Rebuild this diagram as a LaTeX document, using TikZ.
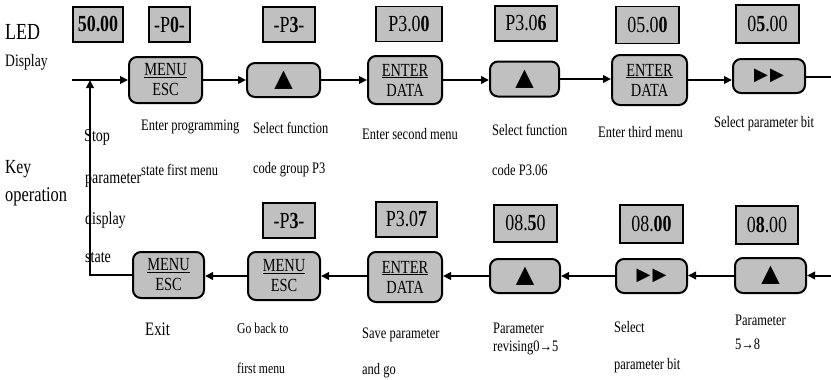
\documentclass[tikz,border=0pt]{standalone}
\usepackage{fontspec}
\setmainfont[FakeStretch=0.78]{Liberation Serif}
\newfontfamily\symfont{DejaVu Sans}
\usetikzlibrary{arrows.meta}
\definecolor{boxgray}{RGB}{192,192,192}
\tikzset{
  led/.style={draw, line width=1.6pt, fill=boxgray, inner sep=0pt, font=\fontsize{23}{23}\selectfont},
  keybox/.style={draw, line width=2pt, rounded corners=8pt, fill=boxgray, inner sep=0pt, align=center, font=\fontsize{18.5}{20}\selectfont},
  lbl/.style={anchor=west, inner sep=0pt, font=\fontsize{16}{16}\selectfont},
  side/.style={anchor=west, inner sep=0pt, font=\fontsize{18}{18}\selectfont},
  conn/.style={line width=2pt},
  arr/.style={line width=2pt, -{Triangle[length=8pt,width=7.5pt]}}
}
\newcommand{\keyup}{{\symfont\fontsize{24}{24}\selectfont ▲}}
\newcommand{\keyright}{{\symfont\fontsize{18}{18}\selectfont ▶\kern2pt▶}}
\begin{document}
\begin{tikzpicture}[x=1pt,y=-1pt]
\useasboundingbox (0,0) rectangle (831,380);
% left texts
\node[anchor=west, inner sep=0pt, font=\fontsize{23}{23}\selectfont] (tled) at (5,32) {LED};
\node[anchor=west, inner sep=0pt, font=\fontsize{17.5}{17.5}\selectfont] (tdisp) at (5,62) {Display};
\node[anchor=west, inner sep=0pt, font=\fontsize{20}{20}\selectfont] (tkey) at (5,169) {Key};
\node[anchor=west, inner sep=0pt, font=\fontsize{21}{21}\selectfont] (toper) at (5,197) {operation};
\node[side] (sstop) at (84,137) {Stop};
\node[side] (spar) at (85,180) {parameter};
\node[side] (sdisp) at (85,220) {display};
\node[side] (sstate) at (85,258) {state};
% top LED displays
\node[led, minimum width=50pt, minimum height=35pt] (L1) at (98,24.5) {\bfseries 50.00};
\node[led, minimum width=41pt, minimum height=35pt] (L2) at (169.5,24.5) {-P\textbf{0}-};
\node[led, minimum width=52pt, minimum height=35pt] (L3) at (289,24.5) {-P\textbf{3}-};
\node[led, minimum width=66pt, minimum height=35pt] (L4) at (409,24) {P3.0\textbf{0}};
\node[led, minimum width=62pt, minimum height=35pt] (L5) at (526,23.5) {P3.0\textbf{6}};
\node[led, minimum width=63pt, minimum height=37pt] (L6) at (647.5,25) {05.0\textbf{0}};
\node[led, minimum width=63pt, minimum height=38pt] (L7) at (767.5,24) {0\textbf{5}.00};
% top keys
\node[keybox, minimum width=73pt, minimum height=46pt] (K1) at (165.5,80) {\underline{MENU}\\ESC};
\node[keybox, minimum width=73pt, minimum height=34pt] (K2) at (283.5,80) {\keyup};
\node[keybox, minimum width=74pt, minimum height=48pt] (K3) at (405,80) {\underline{ENTER}\\DATA};
\node[keybox, minimum width=69pt, minimum height=35pt] (K4) at (524.5,79) {\keyup};
\node[keybox, minimum width=75pt, minimum height=50pt] (K5) at (649.5,80) {\underline{ENTER}\\DATA};
\node[keybox, minimum width=72pt, minimum height=34pt] (K6) at (769,76) {\keyright};
% top labels
\node[lbl] (a1) at (141,127) {Enter programming};
\node[lbl] (a2) at (141,170) {state first menu};
\node[lbl] (b1) at (253,128) {Select function};
\node[lbl] (b2) at (253,170) {code group P3};
\node[lbl] (c1) at (362,134) {Enter second menu};
\node[lbl] (d1) at (492,130) {Select function};
\node[lbl] (d2) at (492,170) {code P3.06};
\node[lbl] (e1) at (598,132) {Enter third menu};
\node[lbl] (f1) at (714,124) {Select parameter bit};
% bottom LED displays
\node[led, minimum width=52pt, minimum height=35pt] (B1) at (289,220.5) {-P\textbf{3}-};
\node[led, minimum width=61pt, minimum height=35pt] (B2) at (406.5,219.5) {P3.0\textbf{7}};
\node[led, minimum width=63pt, minimum height=37pt] (B3) at (525.5,223.5) {08.\textbf{5}0};
\node[led, minimum width=63pt, minimum height=38pt] (B4) at (651.5,224) {08.\textbf{00}};
\node[led, minimum width=62pt, minimum height=38pt] (B5) at (767,225) {0\textbf{8}.00};
% bottom keys
\node[keybox, minimum width=71pt, minimum height=46pt] (C1) at (168.5,275) {\underline{MENU}\\ESC};
\node[keybox, minimum width=72pt, minimum height=48pt] (C2) at (284,276) {\underline{MENU}\\ESC};
\node[keybox, minimum width=74pt, minimum height=50pt] (C3) at (405,277) {\underline{ENTER}\\DATA};
\node[keybox, minimum width=70pt, minimum height=34pt] (C4) at (525,276) {\keyup};
\node[keybox, minimum width=71pt, minimum height=34pt] (C5) at (651.5,276) {\keyright};
\node[keybox, minimum width=71pt, minimum height=35pt] (C6) at (770.5,275.5) {\keyup};
% bottom labels
\node[anchor=west, inner sep=0pt, font=\fontsize{19}{19}\selectfont] (g1) at (145,329) {Exit};
\node[lbl, font=\fontsize{15}{15}\selectfont] (h1) at (237,328) {Go back to};
\node[lbl, font=\fontsize{15}{15}\selectfont] (h2) at (237,368) {first menu};
\node[lbl] (i1) at (362,335) {Save parameter};
\node[lbl] (i2) at (362,371) {and go};
\node[lbl] (j1) at (493,328) {Parameter};
\node[lbl] (j2) at (493,348) {revising0→5};
\node[lbl] (k1) at (614,327) {Select};
\node[lbl] (k2) at (614,366) {parameter bit};
\node[lbl] (m1) at (735,320) {Parameter};
\node[lbl] (m2) at (735,344) {5→8};
% connectors
\coordinate (start) at (72,80);
\coordinate (join) at (90,80);
\coordinate (outtop) at (831,77);
\coordinate (inbot) at (831,275.5);
\draw[arr] (start) -- (K1.west);
\draw[arr] (C1.west) -| (join);
\draw[arr] (K1.east) -- (K2.west);
\draw[arr] (K2.east) -- (K3.west);
\draw[arr] (K3.east) -- (K3.east -| K4.west);
\draw[arr] (K4.east) -- (K4.east -| K5.west);
\draw[arr] (K5.east) -- (K5.east -| K6.west);
\draw[conn] (K6.east |- outtop) -- (outtop);
\draw[arr] (inbot) -- (C6.east);
\draw[arr] (C6.west) -- (C6.west -| C5.east);
\draw[arr] (C5.west) -- (C5.west -| C4.east);
\draw[arr] (C4.west) -- (C4.west -| C3.east);
\draw[arr] (C3.west |- C2.east) -- (C2.east);
\draw[arr] (C2.west) -- (C2.west -| C1.east);
\end{tikzpicture}
\end{document}
